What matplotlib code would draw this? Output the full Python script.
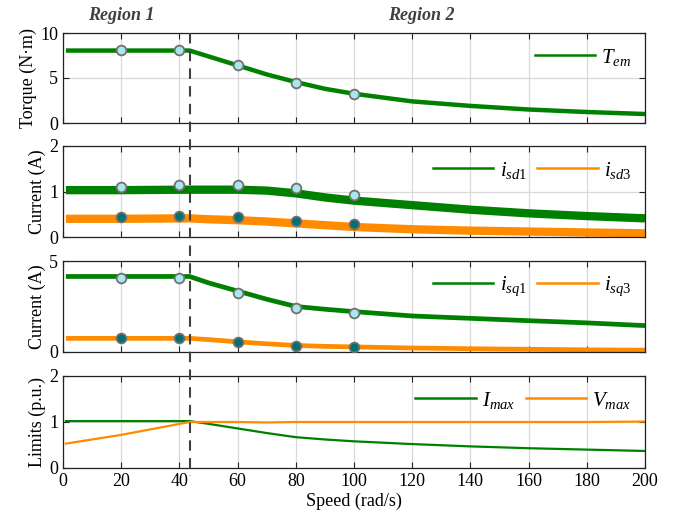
import numpy as np
import matplotlib
matplotlib.use("Agg")
import matplotlib.pyplot as plt
from matplotlib.lines import Line2D
from matplotlib.transforms import blended_transform_factory

plt.rcParams['font.family'] = ['Liberation Serif', 'DejaVu Serif']
plt.rcParams['mathtext.fontset'] = 'custom'
plt.rcParams['mathtext.rm'] = 'Liberation Serif'
plt.rcParams['mathtext.it'] = 'Liberation Serif:italic'

# ---- data ----
speed = [1, 20, 43.5, 50, 60, 70, 80, 90, 100, 120, 140, 160, 180, 200]
torque = [8.05, 8.05, 8.05, 7.4, 6.4, 5.4, 4.55, 3.8, 3.25, 2.4, 1.9, 1.5, 1.22, 1.0]
isd1 = [1.03, 1.03, 1.04, 1.04, 1.04, 1.02, 0.96, 0.87, 0.8, 0.7, 0.6, 0.52, 0.46, 0.41]
isd3 = [0.4, 0.4, 0.41, 0.39, 0.37, 0.34, 0.3, 0.26, 0.22, 0.17, 0.14, 0.12, 0.1, 0.08]
isq1 = [4.15, 4.15, 4.15, 3.8, 3.35, 2.9, 2.5, 2.35, 2.22, 1.98, 1.85, 1.72, 1.6, 1.45]
isq3 = [0.75, 0.75, 0.75, 0.68, 0.56, 0.45, 0.36, 0.31, 0.28, 0.22, 0.18, 0.15, 0.12, 0.1]
imax = [1.02, 1.02, 1.02, 0.96, 0.86, 0.76, 0.67, 0.62, 0.58, 0.52, 0.47, 0.43, 0.4, 0.37]
vmax = [0.53, 0.72, 1.0, 1.0, 1.0, 0.99, 1.0, 1.0, 1.0, 1.0, 1.0, 1.0, 1.0, 1.01]

mk_speed = [20, 40, 60, 80, 100]
mk_torque = [8.1, 8.1, 6.4, 4.5, 3.2]
mk_isd1 = [1.1, 1.15, 1.15, 1.08, 0.93]
mk_isd3 = [0.43, 0.46, 0.43, 0.35, 0.28]
mk_isq1 = [4.05, 4.05, 3.25, 2.4, 2.15]
mk_isq3 = [0.75, 0.75, 0.55, 0.32, 0.27]

boundary = 43.5
xticks = [0, 20, 40, 60, 80, 100, 120, 140, 160, 180, 200]

GREEN = '#008000'
ORANGE = '#ff8c00'
LIGHT = '#a8e8ec'
TEAL = '#007070'
EDGE = '#707070'

fig = plt.figure(figsize=(6.84, 5.25), dpi=100)
L, R = 63/684, 645/684
tops = [33, 146, 261, 376]
bots = [123, 237, 352, 468]
axes = []
for t, b in zip(tops, bots):
    ax = fig.add_axes([L, 1 - b/525, R - L, (b - t)/525])
    axes.append(ax)

ylims = [(0, 10), (0, 2), (0, 5), (0, 2)]
yticks = [[0, 5, 10], [0, 1, 2], [0, 5], [0, 1, 2]]
ylabels = ['Torque (N·m)', 'Current (A)', 'Current (A)', 'Limits (p.u.)']

for i, ax in enumerate(axes):
    ax.set_xlim(0, 200)
    ax.set_ylim(*ylims[i])
    ax.set_xticks(xticks)
    ax.set_yticks(yticks[i])
    ax.grid(True, color='#d9d9d9', linewidth=0.9)
    ax.set_axisbelow(True)
    ax.tick_params(direction='in', top=True, right=True, labelsize=13, length=4, color='#222222')
    ax.set_ylabel(ylabels[i], fontsize=13, labelpad=2)
    for s in ax.spines.values():
        s.set_color('#222222')
        s.set_linewidth(0.9)
    if i < 3:
        ax.tick_params(labelbottom=False)

mk_kw1 = dict(marker='o', linestyle='none', markersize=7, markerfacecolor=LIGHT,
              markeredgecolor=EDGE, markeredgewidth=1.3, zorder=5)
mk_kw2 = dict(marker='o', linestyle='none', markersize=7, markerfacecolor=TEAL,
              markeredgecolor=EDGE, markeredgewidth=1.3, zorder=5)

leg_kw = dict(loc='upper right', frameon=False, fontsize=15, handlelength=2.9,
              ncol=2, columnspacing=0.5, handletextpad=0.3, borderaxespad=0.25)

# Panel 1
ax = axes[0]
ax.plot(speed, torque, color=GREEN, lw=3.2, solid_capstyle='butt')
ax.plot(mk_speed, mk_torque, **mk_kw1)
ax.legend([Line2D([], [], color=GREEN, lw=1.8)], ['$T_{em}$'], **leg_kw)

# Panel 2
ax = axes[1]
ax.plot(speed, isd1, color=GREEN, lw=6, solid_capstyle='butt')
ax.plot(speed, isd3, color=ORANGE, lw=6, solid_capstyle='butt')
ax.plot(mk_speed, mk_isd1, **mk_kw1)
ax.plot(mk_speed, mk_isd3, **mk_kw2)
ax.legend([Line2D([], [], color=GREEN, lw=1.8), Line2D([], [], color=ORANGE, lw=1.8)],
          ['$i_{sd1}$', '$i_{sd3}$'], **leg_kw)

# Panel 3
ax = axes[2]
ax.plot(speed, isq1, color=GREEN, lw=3.4, solid_capstyle='butt')
ax.plot(speed, isq3, color=ORANGE, lw=3.4, solid_capstyle='butt')
ax.plot(mk_speed, mk_isq1, **mk_kw1)
ax.plot(mk_speed, mk_isq3, **mk_kw2)
ax.legend([Line2D([], [], color=GREEN, lw=1.8), Line2D([], [], color=ORANGE, lw=1.8)],
          ['$i_{sq1}$', '$i_{sq3}$'], **leg_kw)

# Panel 4
ax = axes[3]
ax.plot(speed, imax, color=GREEN, lw=1.6)
ax.plot(speed, vmax, color=ORANGE, lw=1.6)
ax.legend([Line2D([], [], color=GREEN, lw=1.8), Line2D([], [], color=ORANGE, lw=1.8)],
          ['$I_{max}$', '$V_{max}$'], **leg_kw)
ax.set_xlabel('Speed (rad/s)', fontsize=13, labelpad=2)

# Dashed boundary line across all panels
tr = blended_transform_factory(axes[0].transData, fig.transFigure)
fig.add_artist(Line2D([boundary, boundary], [1 - 33/525, 1 - 476/525], transform=tr,
                      color='#404040', lw=1.5, linestyle=(0, (5, 3.5)), zorder=10))

# Region labels
btr = blended_transform_factory(axes[0].transData, axes[0].transAxes)
axes[0].text(20, 1.1, 'Region 1', transform=btr,
             ha='center', va='bottom', fontsize=13, fontweight='bold', fontstyle='italic', color='#404040')
axes[0].text(123, 1.1, 'Region 2', transform=btr,
             ha='center', va='bottom', fontsize=13, fontweight='bold', fontstyle='italic', color='#404040')

fig.savefig('out.png', dpi=100)
